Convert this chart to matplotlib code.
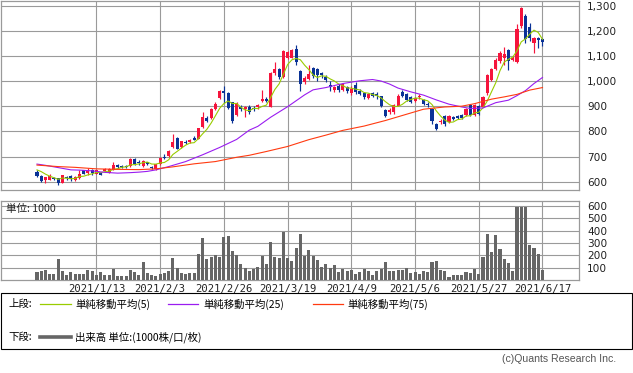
import matplotlib
matplotlib.use('Agg')
import matplotlib.pyplot as plt
import numpy as np
import pandas as pd
from matplotlib.lines import Line2D
from matplotlib.patches import Rectangle

# ---------------- data ----------------
opens = [638, 621, 605, 608, 614, 613, 595, 620, 622, 606,
         613, 645, 634, 647, 632, 636, 642, 635, 647, 668,
         663, 662, 663, 692, 680, 661, 677, 660, 650, 671,
         697, 703, 737, 775, 738, 759, 757, 775, 770, 819,
         854, 852, 890, 931, 961, 951, 915, 865, 898, 887,
         895, 893, 895, 919, 930, 898, 1030, 1046, 1017, 1093,
         1093, 1128, 1040, 997, 1010, 1050, 1048, 1030, 1017, 985,
         964, 981, 965, 977, 952, 985, 962, 953, 932, 951,
         948, 940, 885, 875, 878, 902, 958, 948, 935, 922,
         938, 925, 910, 888, 830, 836, 860, 836, 857, 862,
         867, 866, 905, 866, 899, 898, 951, 1003, 1049, 1078,
         1093, 1124, 1085, 1076, 1217, 1258, 1215, 1151, 1172, 1168]
highs = [647, 625, 620, 630, 620, 616, 628, 624, 626, 622,
         645, 648, 655, 650, 648, 640, 655, 655, 677, 672,
         668, 665, 695, 696, 685, 686, 680, 664, 672, 698,
         711, 726, 788, 778, 762, 764, 770, 780, 815, 876,
         860, 892, 915, 966, 980, 955, 918, 915, 903, 900,
         905, 900, 910, 966, 935, 1035, 1075, 1050, 1122, 1120,
         1128, 1142, 1045, 1018, 1065, 1055, 1052, 1035, 1022, 1000,
         980, 990, 992, 982, 980, 995, 968, 958, 952, 955,
         958, 942, 888, 892, 910, 948, 965, 952, 940, 935,
         950, 928, 915, 892, 835, 848, 864, 866, 862, 866,
         870, 892, 908, 908, 905, 942, 1028, 1052, 1090, 1118,
         1135, 1126, 1100, 1227, 1296, 1267, 1230, 1175, 1175, 1172]
lows = [620, 598, 594, 605, 606, 588, 594, 608, 604, 604,
        610, 630, 625, 628, 630, 625, 640, 633, 645, 655,
        655, 655, 660, 668, 668, 658, 665, 650, 648, 668,
        690, 700, 733, 728, 735, 750, 755, 764, 768, 815,
        838, 850, 885, 928, 911, 888, 835, 860, 880, 858,
        870, 880, 890, 915, 915, 895, 1025, 1010, 1012, 1088,
        1090, 1065, 962, 990, 1005, 1012, 1000, 1012, 995, 960,
        955, 955, 960, 952, 945, 950, 945, 930, 928, 935,
        930, 898, 858, 868, 870, 900, 935, 920, 912, 915,
        930, 905, 895, 830, 805, 830, 822, 832, 845, 850,
        848, 862, 862, 862, 866, 895, 945, 1000, 1045, 1070,
        1063, 1045, 1080, 1070, 1212, 1150, 1160, 1111, 1130, 1140]
closes = [624, 602, 617, 624, 611, 594, 626, 615, 612, 618,
          632, 632, 642, 633, 645, 628, 652, 652, 668, 658,
          658, 659, 692, 672, 673, 683, 670, 653, 670, 696,
          693, 723, 759, 731, 760, 753, 765, 766, 812, 856,
          842, 889, 910, 960, 951, 893, 840, 910, 887, 895,
          878, 887, 906, 930, 920, 1030, 1046, 1017, 1119, 1115,
          1124, 1075, 990, 1012, 1026, 1018, 1025, 1022, 1003, 975,
          977, 964, 988, 960, 968, 958, 950, 935, 948, 940,
          940, 902, 862, 885, 905, 942, 942, 926, 918, 932,
          942, 910, 905, 843, 808, 840, 828, 860, 850, 855,
          852, 888, 866, 905, 870, 938, 1023, 1049, 1085, 1111,
          1109, 1078, 1092, 1208, 1291, 1168, 1172, 1172, 1162, 1155]
volumes = [67, 72, 80, 45, 51, 171, 75, 43, 64, 48,
           51, 51, 80, 75, 43, 67, 43, 37, 91, 29,
           35, 35, 80, 67, 43, 144, 59, 40, 35, 51,
           59, 72, 179, 96, 56, 51, 59, 59, 208, 339,
           171, 187, 200, 187, 347, 355, 235, 203, 131, 96,
           75, 91, 107, 195, 131, 304, 187, 181, 387, 179,
           155, 259, 376, 195, 243, 195, 163, 109, 131, 99,
           123, 67, 91, 75, 83, 51, 67, 91, 75, 43,
           75, 91, 147, 75, 75, 83, 83, 99, 59, 67,
           51, 75, 67, 147, 155, 83, 75, 27, 43, 43,
           43, 67, 59, 91, 51, 187, 371, 227, 363, 251,
           171, 139, 75, 590, 590, 590, 283, 259, 211, 83]

ma5_first = [647, 640, 630, 622]
ma25_idx = [0, 2, 4, 6, 8, 10, 13, 16, 19, 22, 24, 26, 28, 31, 35, 39, 43, 47, 50, 52,
            55, 59, 63, 65, 68, 72, 76, 79, 81, 83, 85, 88, 91, 94, 97, 100, 102, 105,
            108, 111, 113, 115, 117, 119]
ma25_val = [670, 665, 659, 653, 647, 646, 643, 637, 634, 636, 638, 641, 647, 660, 680, 707,
            736, 768, 805, 820, 856, 898, 945, 965, 974, 990, 1001, 1006, 1000, 988, 972,
            957, 944, 925, 908, 897, 891, 893, 914, 924, 942, 962, 990, 1014]
ma75_idx = [0, 5, 9, 14, 19, 24, 28, 32, 37, 42, 47, 50, 54, 59, 64, 68, 72, 77, 82, 87,
            91, 96, 100, 103, 107, 110, 113, 116, 119]
ma75_val = [666, 660, 657, 651, 649, 648, 651, 659, 671, 680, 697, 705, 720, 740, 767, 785,
            804, 821, 843, 868, 888, 897, 900, 910, 928, 937, 947, 964, 974]

date_idx = [14, 29, 44, 59, 74, 89, 104, 119]
date_labels = ['2021/1/13', '2021/2/3', '2021/2/26', '2021/3/19',
               '2021/4/9', '2021/5/6', '2021/5/27', '2021/6/17']
price_ticks = [600, 700, 800, 900, 1000, 1100, 1200, 1300]
vol_ticks = [100, 200, 300, 400, 500, 600]

# ---------------- styling ----------------
W, H = 633, 373
UP = '#f5143c'
DOWN = '#0a3296'
GRID = '#9a9a9a'
CJK = ['Noto Sans CJK JP', 'DejaVu Sans']
plt.rcParams['font.family'] = ['DejaVu Sans', 'Noto Sans CJK JP']

fig = plt.figure(figsize=(W / 100, H / 100), dpi=100)
fig.patch.set_facecolor('white')


def axrect(l, t, r, b):
    return [l / W, 1 - b / H, (r - l) / W, (b - t) / H]


x0 = -8.47
x1 = 127.6

ax = fig.add_axes(axrect(1, 1, 579, 190))
axv = fig.add_axes(axrect(1, 201, 579, 280))

n = len(closes)
x = np.arange(n)
o = np.array(opens, float)
c = np.array(closes, float)
h = np.array(highs, float)
lo = np.array(lows, float)
cols = [UP if cc >= oo else DOWN for oo, cc in zip(o, c)]

for a in (ax, axv):
    a.set_xlim(x0, x1)
    a.set_xticks(date_idx)
    a.grid(True, color=GRID, lw=0.8)
    a.set_axisbelow(True)
    for s in a.spines.values():
        s.set_color(GRID)
        s.set_linewidth(0.9)
    a.tick_params(length=0)

ax.set_ylim(567, 1318)
ax.set_yticks(price_ticks)
ax.yaxis.tick_right()
ax.set_yticklabels([f'{v:,}' for v in price_ticks], fontsize=7.6, color='#222222')
ax.tick_params(axis='y', pad=6)
ax.set_xticklabels([])

# candles
ax.vlines(x, lo, h, colors=cols, lw=0.85, zorder=3)
body_b = np.minimum(o, c)
body_h = np.maximum(np.abs(c - o), 3)
ax.bar(x, body_h, bottom=body_b, width=0.72, color=cols, zorder=4, linewidth=0)

# moving averages
ma5 = pd.Series(c).rolling(5).mean().to_numpy()
ma5[:len(ma5_first)] = ma5_first
ax.plot(x, ma5, color='#99cc00', lw=0.8, zorder=5)
ax.plot(ma25_idx, ma25_val, color='#9a1cf0', lw=0.8, zorder=5)
ax.plot(ma75_idx, ma75_val, color='#ff3a10', lw=0.8, zorder=5)

# volume
axv.bar(x, volumes, width=0.72, color='#666666', zorder=3)
axv.set_ylim(0, 640)
axv.set_yticks(vol_ticks)
axv.yaxis.tick_right()
axv.set_yticklabels([str(v) for v in vol_ticks], fontsize=7.6, color='#222222')
axv.tick_params(axis='y', pad=6)
axv.set_xticklabels(date_labels, fontsize=7.6, family='DejaVu Sans Mono', color='#222222')
axv.tick_params(axis='x', pad=3)
axv.text(0.008, 0.90, '単位: 1000', transform=axv.transAxes, fontsize=7.6,
         family=CJK, va='center', ha='left', color='#222222')

# legend box
fig.add_artist(Rectangle((1 / W, 1 - 349 / H), 631 / W, 56 / H, transform=fig.transFigure,
                         fill=False, edgecolor='black', lw=0.8))


def fx(px):
    return px / W


def fy(py):
    return 1 - py / H


FS = 7.5
ly1, ly2 = 304, 337
fig.text(fx(8), fy(ly1), '上段:', fontsize=FS, family=CJK, va='center', ha='left')
fig.add_artist(Line2D([fx(40), fx(71)], [fy(ly1), fy(ly1)], color='#99cc00', lw=0.9,
                      transform=fig.transFigure))
fig.text(fx(75), fy(ly1), '単純移動平均(5)', fontsize=FS, family=CJK, va='center', ha='left')
fig.add_artist(Line2D([fx(168), fx(198)], [fy(ly1), fy(ly1)], color='#9a1cf0', lw=0.9,
                      transform=fig.transFigure))
fig.text(fx(203), fy(ly1), '単純移動平均(25)', fontsize=FS, family=CJK, va='center', ha='left')
fig.add_artist(Line2D([fx(313), fx(343)], [fy(ly1), fy(ly1)], color='#ff3a10', lw=0.9,
                      transform=fig.transFigure))
fig.text(fx(347), fy(ly1), '単純移動平均(75)', fontsize=FS, family=CJK, va='center', ha='left')

fig.text(fx(8), fy(ly2), '下段:', fontsize=FS, family=CJK, va='center', ha='left')
fig.add_artist(Line2D([fx(40), fx(71)], [fy(ly2), fy(ly2)], color='#666666', lw=2.6,
                      transform=fig.transFigure))
fig.text(fx(75), fy(ly2), '出来高 単位:(1000株/口/枚)', fontsize=FS, family=CJK,
         va='center', ha='left')

fig.text(fx(616), fy(359), '(c)Quants Research Inc.', fontsize=7.6,
         family=['Liberation Sans', 'DejaVu Sans'], va='center', ha='right', color='#555555')

fig.savefig('out.png', dpi=100, facecolor='white')
